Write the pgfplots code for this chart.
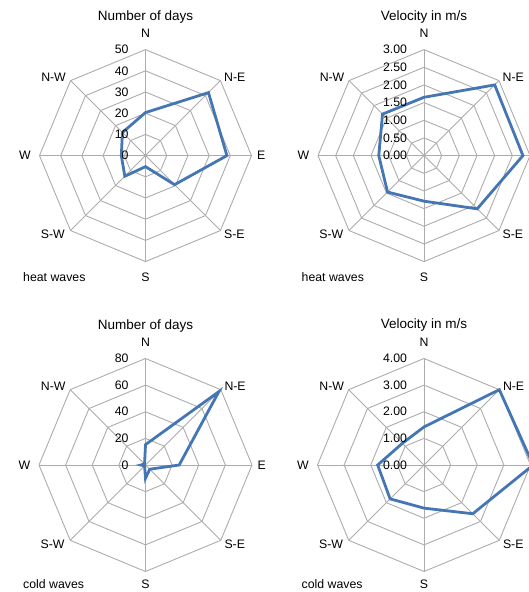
\documentclass[border=0pt]{standalone}
\usepackage{pgfplots}
\pgfplotsset{compat=1.18}
\usepackage{fontspec}
\setmainfont{Liberation Sans}
\definecolor{gridc}{RGB}{172,172,172}
\definecolor{serc}{RGB}{68,118,180}
\newcommand{\lblfont}{\fontsize{12.3}{14}\selectfont}
\newcommand{\ttlfont}{\fontsize{13.5}{16}\selectfont}
\pgfplotsset{
  radar/.style={hide axis, clip=false, anchor=center, xmin=-#1, xmax=#1, ymin=-#1, ymax=#1},
  ring/.style={gridc, line width=0.9pt, mark=none, data cs=polar},
  series/.style={serc, line width=2.8pt, mark=none, data cs=polar, line join=miter},
}
\newcommand{\ring}[1]{\addplot[ring] coordinates {(90,#1) (45,#1) (0,#1) (-45,#1) (-90,#1) (-135,#1) (180,#1) (135,#1)} --cycle;}
\newcommand{\spokes}[1]{%
  \addplot[ring] coordinates {(90,#1) (-90,#1)};
  \addplot[ring] coordinates {(0,#1) (180,#1)};
  \addplot[ring] coordinates {(45,#1) (-135,#1)};
  \addplot[ring] coordinates {(135,#1) (-45,#1)};}
\newcommand{\elabel}[1]{\node[anchor=west, xshift=5.5pt, inner sep=0pt, font=\lblfont] at (axis cs:#1,0) {E};}
% #1 = outer radius, #2 = title, #3 = wave label, #4 = shift of wave label / S label
\newcommand{\decor}[4]{%
  \node[anchor=base, yshift=29.5pt, font=\ttlfont] at (axis cs:0,#1) {#2};
  \node[anchor=base, yshift=11.7pt, inner sep=0pt, font=\lblfont] at (axis cs:0,#1) {N};
  \node[anchor=west, xshift=3.5pt, yshift=3.8pt, inner sep=0pt, font=\lblfont] at (axis cs:{0.7071*#1},{0.7071*#1}) {N-E};
  \node[anchor=west, xshift=3.5pt, yshift=-3.8pt, inner sep=0pt, font=\lblfont] at (axis cs:{0.7071*#1},{-0.7071*#1}) {S-E};
  \node[anchor=base, yshift=-#4, inner sep=0pt, font=\lblfont] at (axis cs:0,-#1) {S};
  \node[anchor=east, xshift=-5.5pt, yshift=-3.8pt, inner sep=0pt, font=\lblfont] at (axis cs:{-0.7071*#1},{-0.7071*#1}) {S-W};
  \node[anchor=east, xshift=-8.5pt, inner sep=0pt, font=\lblfont] at (axis cs:-#1,0) {W};
  \node[anchor=east, xshift=-4.5pt, yshift=3.8pt, inner sep=0pt, font=\lblfont] at (axis cs:{-0.7071*#1},{0.7071*#1}) {N-W};
  \node[anchor=base west, xshift=-122.5pt, yshift=-#4, inner sep=0pt, font=\lblfont] at (axis cs:0,-#1) {#3};}
\newcommand{\tick}[2]{\node[anchor=east, xshift=-16.8pt, inner sep=0pt, font=\lblfont] at (axis cs:0,#1) {#2};}
\begin{document}
\begin{tikzpicture}
% ---------- heat waves, number of days ----------
\begin{axis}[radar=56, at={(145.5pt,436.4pt)}, x=2.12pt, y=2.12pt]
  \pgfplotsinvokeforeach{10,20,30,40,50}{\ring{#1}}
  \spokes{50}
  \addplot[series] coordinates {(90,20.3) (45,42) (0,38.4) (-45,19.4) (-90,5.2) (-135,13.8) (180,11.4) (135,15.4)} --cycle;
  \decor{50}{Number of days}{heat waves}{20.3pt}
  \elabel{50}
  \tick{0}{0}\tick{10}{10}\tick{20}{20}\tick{30}{30}\tick{40}{40}\tick{50}{50}
\end{axis}
% ---------- heat waves, velocity ----------
\begin{axis}[radar=3.4, at={(424pt,436.4pt)}, x=35.333pt, y=35.333pt]
  \pgfplotsinvokeforeach{0.5,1,1.5,2,2.5,3}{\ring{#1}}
  \spokes{3}
  \addplot[series] coordinates {(90,1.65) (45,2.83) (0,2.80) (-45,2.13) (-90,1.29) (-135,1.46) (180,1.28) (135,1.66)} --cycle;
  \decor{3}{Velocity in m/s}{heat waves}{20.3pt}
  \tick{0}{0.00}\tick{0.5}{0.50}\tick{1}{1.00}\tick{1.5}{1.50}\tick{2}{2.00}\tick{2.5}{2.50}\tick{3}{3.00}
\end{axis}
% ---------- cold waves, number of days ----------
\begin{axis}[radar=90, at={(145.5pt,127pt)}, x=1.33125pt, y=1.33125pt]
  \pgfplotsinvokeforeach{20,40,60,80}{\ring{#1}}
  \spokes{80}
  \addplot[series] coordinates {(90,15.3) (45,78) (0,25.3) (-45,4.5) (-90,10) (-135,1) (180,3.4) (135,1)} --cycle;
  \decor{80}{Number of days}{cold waves}{17.3pt}
  \elabel{80}
  \tick{0}{0}\tick{20}{20}\tick{40}{40}\tick{60}{60}\tick{80}{80}
\end{axis}
% ---------- cold waves, velocity ----------
\begin{axis}[radar=4.5, at={(424pt,127pt)}, x=26.625pt, y=26.625pt]
  \pgfplotsinvokeforeach{1,2,3,4}{\ring{#1}}
  \spokes{4}
  \addplot[series] coordinates {(90,1.43) (45,4.0) (0,4.1) (-45,2.59) (-90,1.62) (-135,1.80) (180,1.74) (135,1.15)} --cycle;
  \decor{4}{Velocity in m/s}{cold waves}{17.3pt}
  \tick{0}{0.00}\tick{1}{1.00}\tick{2}{2.00}\tick{3}{3.00}\tick{4}{4.00}
\end{axis}
\pgfresetboundingbox
\useasboundingbox (0pt,0pt) rectangle (528pt,592pt);
\end{tikzpicture}
\end{document}
